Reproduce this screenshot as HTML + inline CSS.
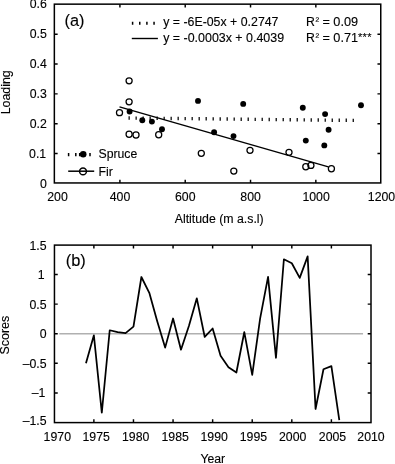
<!DOCTYPE html>
<html><head><meta charset="utf-8"><title>Figure</title>
<style>html,body{margin:0;padding:0;background:#fff}svg{display:block}text{font-family:"Liberation Sans",Arial,Helvetica,sans-serif;fill:#000;stroke:#000;stroke-width:0.12px}</style></head><body>
<svg width="395" height="464" viewBox="0 0 395 464">
<rect width="395" height="464" fill="#fff"/>
<rect x="54.35" y="4.15" width="326.40" height="178.80" fill="none" stroke="#000" stroke-width="1.5"/>
<path d="M119.91 182.95v-3.3M119.91 4.15v3.3M185.22 182.95v-3.3M185.22 4.15v3.3M250.53 182.95v-3.3M250.53 4.15v3.3M315.84 182.95v-3.3M315.84 4.15v3.3M54.35 153.55h3.3M380.75 153.55h-3.3M54.35 123.70h3.3M380.75 123.70h-3.3M54.35 93.85h3.3M380.75 93.85h-3.3M54.35 64.00h3.3M380.75 64.00h-3.3M54.35 34.15h3.3M380.75 34.15h-3.3" stroke="#000" stroke-width="1.45" fill="none"/>
<text x="46.8" y="187.50" font-size="12.3" text-anchor="end">0</text>
<text x="46.2" y="157.65" font-size="12.3" text-anchor="end">0.1</text>
<text x="46.8" y="127.80" font-size="12.3" text-anchor="end">0.2</text>
<text x="46.8" y="97.95" font-size="12.3" text-anchor="end">0.3</text>
<text x="46.8" y="68.10" font-size="12.3" text-anchor="end">0.4</text>
<text x="46.8" y="38.25" font-size="12.3" text-anchor="end">0.5</text>
<text x="46.8" y="8.40" font-size="12.3" text-anchor="end">0.6</text>
<text x="57.5" y="201.4" font-size="12.3" text-anchor="middle">200</text>
<text x="120" y="201.4" font-size="12.3" text-anchor="middle">400</text>
<text x="185.3" y="201.4" font-size="12.3" text-anchor="middle">600</text>
<text x="250.6" y="201.4" font-size="12.3" text-anchor="middle">800</text>
<text x="316.1" y="201.4" font-size="12.3" text-anchor="middle">1000</text>
<text x="381.5" y="201.4" font-size="12.3" text-anchor="middle">1200</text>
<text x="174.7" y="223.4" font-size="12.3" textLength="89" lengthAdjust="spacingAndGlyphs">Altitude (m a.s.l)</text>
<text transform="translate(9.6 114.3) rotate(-90)" font-size="12.3" textLength="44" lengthAdjust="spacingAndGlyphs">Loading</text>
<text x="64.6" y="25.8" font-size="16.3">(a)</text>
<path d="M132.6 21.7v3M139.75 21.7v3M146.9 21.7v3M154.05 21.7v3" stroke="#000" stroke-width="1.5"/>
<path d="M131.8 38.5H157.9" stroke="#000" stroke-width="1.4"/>
<text x="163.2" y="25.9" font-size="12.3" textLength="115.3" lengthAdjust="spacingAndGlyphs">y = -6E-05x + 0.2747</text>
<text x="163.2" y="41.6" font-size="12.3" textLength="120.9" lengthAdjust="spacingAndGlyphs">y = -0.0003x + 0.4039</text>
<text x="306.1" y="25.8" font-size="12.3">R</text>
<text x="315.4" y="25.0" font-size="11">²</text>
<text x="322.4" y="25.8" font-size="12.3" textLength="35.7" lengthAdjust="spacingAndGlyphs">= 0.09</text>
<text x="306.1" y="41.5" font-size="12.3">R</text>
<text x="315.4" y="40.7" font-size="11">²</text>
<text x="322.4" y="41.5" font-size="12.3" textLength="35.7" lengthAdjust="spacingAndGlyphs">= 0.71</text>
<text x="357.9" y="40.9" font-size="11" textLength="13.6" lengthAdjust="spacing">***</text>
<path d="M129.15 116.30v3.4M136.15 116.38v3.4M143.16 116.45v3.4M150.16 116.52v3.4M157.16 116.60v3.4M164.17 116.67v3.4M171.17 116.75v3.4M178.17 116.83v3.4M185.18 116.90v3.4M192.18 116.97v3.4M199.18 117.05v3.4M206.18 117.12v3.4M213.19 117.20v3.4M220.19 117.28v3.4M227.19 117.35v3.4M234.20 117.42v3.4M241.20 117.50v3.4M248.20 117.58v3.4M255.21 117.65v3.4M262.21 117.72v3.4M269.21 117.80v3.4M276.22 117.88v3.4M283.22 117.95v3.4M290.22 118.03v3.4M297.23 118.10v3.4M304.23 118.17v3.4M311.23 118.25v3.4M318.23 118.33v3.4M325.24 118.40v3.4M332.24 118.48v3.4M339.24 118.55v3.4M346.25 118.62v3.4M353.25 118.70v3.4" stroke="#000" stroke-width="1.25"/>
<path d="M119.5 106.8L328.4 166.9" stroke="#000" stroke-width="1.4"/>
<circle cx="129.6" cy="111.5" r="2.95" fill="#000"/>
<circle cx="142.3" cy="120.3" r="2.95" fill="#000"/>
<circle cx="151.9" cy="121.6" r="2.95" fill="#000"/>
<circle cx="162" cy="129.2" r="2.95" fill="#000"/>
<circle cx="198" cy="100.9" r="2.95" fill="#000"/>
<circle cx="243.2" cy="103.9" r="2.95" fill="#000"/>
<circle cx="214.1" cy="132.3" r="2.95" fill="#000"/>
<circle cx="233.5" cy="136.1" r="2.95" fill="#000"/>
<circle cx="302.8" cy="107.7" r="2.95" fill="#000"/>
<circle cx="325.1" cy="114.1" r="2.95" fill="#000"/>
<circle cx="361" cy="105.2" r="2.95" fill="#000"/>
<circle cx="328.6" cy="129.7" r="2.95" fill="#000"/>
<circle cx="305.8" cy="140.6" r="2.95" fill="#000"/>
<circle cx="324.3" cy="145.4" r="2.95" fill="#000"/>
<circle cx="129.1" cy="80.8" r="3.05" fill="none" stroke="#000" stroke-width="1.25"/>
<circle cx="129.1" cy="101.8" r="3.05" fill="none" stroke="#000" stroke-width="1.25"/>
<circle cx="119.5" cy="112.7" r="3.05" fill="none" stroke="#000" stroke-width="1.25"/>
<circle cx="129.1" cy="134.2" r="3.05" fill="none" stroke="#000" stroke-width="1.25"/>
<circle cx="136" cy="135" r="3.05" fill="none" stroke="#000" stroke-width="1.25"/>
<circle cx="158.7" cy="134.7" r="3.05" fill="none" stroke="#000" stroke-width="1.25"/>
<circle cx="201.3" cy="153.3" r="3.05" fill="none" stroke="#000" stroke-width="1.25"/>
<circle cx="250" cy="150.3" r="3.05" fill="none" stroke="#000" stroke-width="1.25"/>
<circle cx="233.8" cy="171.1" r="3.05" fill="none" stroke="#000" stroke-width="1.25"/>
<circle cx="289" cy="152.3" r="3.05" fill="none" stroke="#000" stroke-width="1.25"/>
<circle cx="305.8" cy="166.7" r="3.05" fill="none" stroke="#000" stroke-width="1.25"/>
<circle cx="310.9" cy="165.4" r="3.05" fill="none" stroke="#000" stroke-width="1.25"/>
<circle cx="331.4" cy="168.7" r="3.05" fill="none" stroke="#000" stroke-width="1.25"/>
<path d="M68.6 153v3.2M75.8 153v3.2M79.7 153v3.2M90 153v3.2" stroke="#000" stroke-width="1.5"/>
<circle cx="83.2" cy="154.3" r="3.3" fill="#000"/>
<path d="M68.2 171.2H94.2" stroke="#000" stroke-width="1.5"/>
<circle cx="83" cy="171.4" r="3.4" fill="none" stroke="#000" stroke-width="1.5"/>
<text x="98.5" y="157.8" font-size="12.3" textLength="38.8" lengthAdjust="spacingAndGlyphs">Spruce</text>
<text x="98.5" y="175.5" font-size="12.3">Fir</text>
<path d="M59.3 333.80H363.06" stroke="#b0b0b0" stroke-width="1.6"/>
<rect x="54.45" y="245.1" width="316.55" height="177.50" fill="none" stroke="#000" stroke-width="1.5"/>
<path d="M93.88 422.6v-3.3M93.88 245.1v3.3M133.47 422.6v-3.3M133.47 245.1v3.3M173.06 422.6v-3.3M173.06 245.1v3.3M212.64 422.6v-3.3M212.64 245.1v3.3M252.22 422.6v-3.3M252.22 245.1v3.3M291.81 422.6v-3.3M291.81 245.1v3.3M331.39 422.6v-3.3M331.39 245.1v3.3M54.45 392.90h3.3M371.0 392.90h-3.3M54.45 363.30h3.3M371.0 363.30h-3.3M54.45 333.70h3.3M371.0 333.70h-3.3M54.45 304.10h3.3M371.0 304.10h-3.3M54.45 274.50h3.3M371.0 274.50h-3.3" stroke="#000" stroke-width="1.45" fill="none"/>
<text x="46.6" y="250.10" font-size="12.3" text-anchor="end">1.5</text>
<text x="44.6" y="279.00" font-size="12.3" text-anchor="end">1</text>
<text x="46.6" y="308.60" font-size="12.3" text-anchor="end">0.5</text>
<text x="46.6" y="338.20" font-size="12.3" text-anchor="end">0</text>
<text x="46.6" y="367.80" font-size="12.3" text-anchor="end">–0.5</text>
<text x="45.4" y="397.40" font-size="12.3" text-anchor="end">–1</text>
<text x="46.6" y="425.30" font-size="12.3" text-anchor="end">–1.5</text>
<text x="57.30" y="441" font-size="12.3" text-anchor="middle">1970</text>
<text x="96.20" y="441" font-size="12.3" text-anchor="middle">1975</text>
<text x="135.70" y="441" font-size="12.3" text-anchor="middle">1980</text>
<text x="175.20" y="441" font-size="12.3" text-anchor="middle">1985</text>
<text x="214.20" y="441" font-size="12.3" text-anchor="middle">1990</text>
<text x="253.40" y="441" font-size="12.3" text-anchor="middle">1995</text>
<text x="292.70" y="441" font-size="12.3" text-anchor="middle">2000</text>
<text x="332.50" y="441" font-size="12.3" text-anchor="middle">2005</text>
<text x="371.00" y="441" font-size="12.3" text-anchor="middle">2010</text>
<text x="200.4" y="463.4" font-size="12.3" textLength="24.8" lengthAdjust="spacingAndGlyphs">Year</text>
<text transform="translate(9.2 354.4) rotate(-90)" font-size="12.3" textLength="38.6" lengthAdjust="spacingAndGlyphs">Scores</text>
<text x="65.7" y="266.3" font-size="16.4">(b)</text>
<polyline points="85.97,363.18 93.88,335.36 101.80,412.73 109.72,330.27 117.64,332.22 125.55,333.11 133.47,326.60 141.39,276.99 149.30,292.85 157.22,321.27 165.14,347.61 173.06,318.49 180.97,349.68 188.89,326.00 196.81,298.36 204.72,336.96 212.64,328.49 220.56,355.78 228.47,367.21 236.39,372.48 244.31,332.04 252.22,374.96 260.14,318.31 268.06,276.87 275.98,357.79 283.89,259.29 291.81,263.25 299.73,277.87 307.64,256.33 315.56,409.00 323.48,369.22 331.39,366.14 339.31,420.13" fill="none" stroke="#000" stroke-width="1.75" stroke-linejoin="round"/>
</svg></body></html>
